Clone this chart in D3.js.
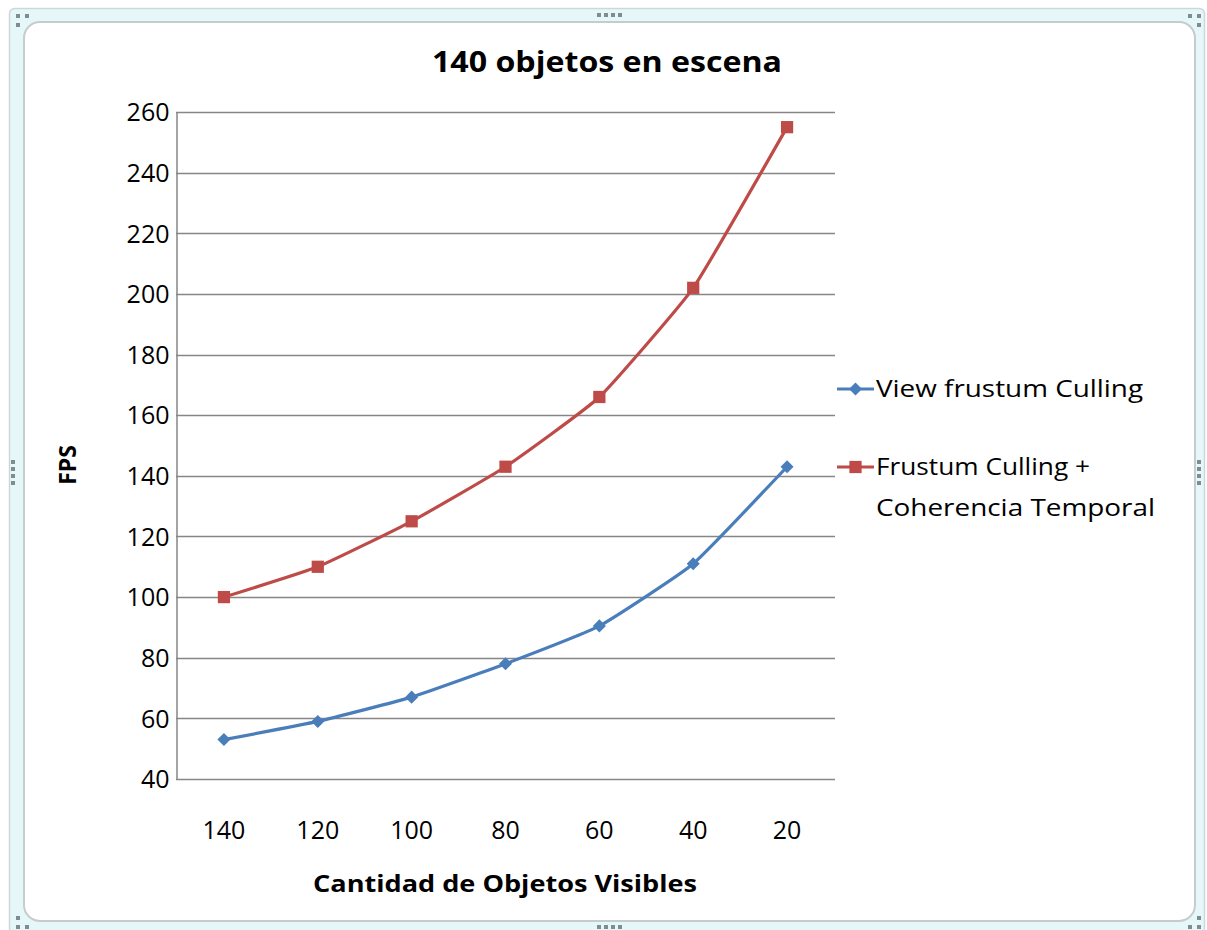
<!DOCTYPE html>
<html>
<head>
<meta charset="utf-8">
<script src="https://cdn.jsdelivr.net/npm/d3@7"></script>
<style>
  html, body { margin: 0; padding: 0; background: #ffffff; }
  svg { display: block; }
  text { font-family: "Open Sans", Lato, "DejaVu Sans", sans-serif; fill: #000; }
</style>
</head>
<body>
<svg id="chart" width="1207" height="930"></svg>
<script>
// Visible objects on screen (x axis, left to right)
const categories = ["140", "120", "100", "80", "60", "40", "20"];

// Frames per second for each technique
const viewFrustum = [53, 59, 67, 78, 90.5, 111, 143];
const frustumTemporal = [100, 110, 125, 143, 166, 202, 255];

const yTicks = [40, 60, 80, 100, 120, 140, 160, 180, 200, 220, 240, 260];

const seriesNames = ["View frustum Culling", "Frustum Culling +\nCoherencia Temporal"];
const chartTitle = "140 objetos en escena";
const xTitle = "Cantidad de Objetos Visibles";
const yTitle = "FPS";

const FONT = "'Open Sans', Lato, sans-serif";
const svg = d3.select("#chart");

// Chart frame: light cyan selection band with white rounded chart area inside
svg.append("rect")
  .attr("x", 9.5).attr("y", 8.5).attr("width", 1195).attr("height", 925)
  .attr("rx", 5)
  .attr("fill", "#e6f7f9").attr("stroke", "#cdd6d9").attr("stroke-width", 1.5);
svg.append("rect")
  .attr("x", 24).attr("y", 22).attr("width", 1171).attr("height", 899)
  .attr("rx", 16)
  .attr("fill", "#ffffff").attr("stroke", "#c6cbce").attr("stroke-width", 2);

// Grip dots on the frame
const grip = svg.append("g").attr("fill", "#7f8c90");
const dot = (gx, gy) => grip.append("rect").attr("x", gx - 2).attr("y", gy - 2).attr("width", 4).attr("height", 4);
[[18, 16], [27, 16], [18, 25]].forEach(([a, b]) => dot(a, b));
[[1190, 16], [1199, 16], [1199, 25]].forEach(([a, b]) => dot(a, b));
[[18, 927], [27, 927], [18, 918]].forEach(([a, b]) => dot(a, b));
[[1190, 927], [1199, 927], [1199, 918]].forEach(([a, b]) => dot(a, b));
[599, 606, 613, 620].forEach(gx => { dot(gx, 15); dot(gx, 927); });
[462, 469, 476, 483].forEach(gy => { dot(1199, gy); dot(13, gy); });

// Scales
const x = d3.scaleBand().domain(categories).range([177, 834]).padding(0);
const y = d3.scaleLinear().domain([40, 260]).range([779, 112]);
const cx = c => x(c) + x.bandwidth() / 2;

// Horizontal gridlines
svg.append("g")
  .selectAll("line").data(yTicks.slice(1)).join("line")
  .attr("x1", 176).attr("x2", 835)
  .attr("y1", d => Math.round(y(d)) + 0.5).attr("y2", d => Math.round(y(d)) + 0.5)
  .attr("stroke", "#868686").attr("stroke-width", 1.5);

// Y axis
const yAxis = svg.append("g")
  .attr("transform", "translate(176.5,0)")
  .call(d3.axisLeft(y).tickValues(yTicks).tickSize(0).tickPadding(7));
yAxis.select(".domain").attr("stroke", "#868686").attr("stroke-width", 1.5);
yAxis.selectAll(".tick text")
  .attr("font-size", 25).attr("font-family", FONT).attr("fill", "#000").attr("dy", "0.35em");

// X axis
const xAxis = svg.append("g")
  .attr("transform", "translate(0,779.5)")
  .call(d3.axisBottom(x).tickSize(0).tickPadding(0));
xAxis.select(".domain").attr("stroke", "#868686").attr("stroke-width", 1.5).attr("d", "M176,0H835");
xAxis.selectAll(".tick text")
  .attr("font-size", 25).attr("font-family", FONT).attr("fill", "#000")
  .attr("y", 51).attr("dy", "0.35em");

// Series
const series = [
  { name: seriesNames[0], values: viewFrustum, color: "#4a7ebb", marker: d3.symbolSquare, msize: 85, rot: 45 },
  { name: seriesNames[1], values: frustumTemporal, color: "#be4b48", marker: d3.symbolSquare, msize: 150, rot: 0 }
];

const line = d3.line()
  .x((d, i) => cx(categories[i]))
  .y(d => y(d))
  .curve(d3.curveCardinal.tension(0.6));

series.forEach(s => {
  svg.append("path")
    .datum(s.values)
    .attr("fill", "none")
    .attr("stroke", s.color)
    .attr("stroke-width", 3.2)
    .attr("stroke-linejoin", "round")
    .attr("d", line);
  svg.append("g")
    .selectAll("path").data(s.values).join("path")
    .attr("transform", (d, i) => `translate(${cx(categories[i])},${y(d)}) rotate(${s.rot})`)
    .attr("d", d3.symbol(s.marker, s.msize))
    .attr("fill", s.color);
});

// Titles
svg.append("text")
  .attr("x", 607).attr("y", 72)
  .attr("text-anchor", "middle")
  .attr("font-size", 28).attr("font-weight", "bold")
  .attr("textLength", 350).attr("lengthAdjust", "spacingAndGlyphs")
  .text(chartTitle);

svg.append("text")
  .attr("x", 505).attr("y", 884).attr("dy", "0.35em")
  .attr("text-anchor", "middle")
  .attr("font-size", 23).attr("font-weight", "bold")
  .attr("textLength", 384).attr("lengthAdjust", "spacingAndGlyphs")
  .text(xTitle);

svg.append("text")
  .attr("transform", "translate(68,465) rotate(-90)")
  .attr("dy", "0.35em")
  .attr("text-anchor", "middle")
  .attr("font-size", 23).attr("font-weight", "bold")
  .text(yTitle);

// Legend
const legendY = [389, 467];
const legendWidths = [[267], [214, 279]];
series.forEach((s, i) => {
  const g = svg.append("g").attr("transform", `translate(837,${legendY[i]})`);
  g.append("line").attr("x1", 0).attr("x2", 37).attr("y1", 0).attr("y2", 0)
    .attr("stroke", s.color).attr("stroke-width", 3.2);
  g.append("path").attr("transform", `translate(18.5,0) rotate(${s.rot})`)
    .attr("d", d3.symbol(s.marker, s.msize)).attr("fill", s.color);
  const lines = s.name.split("\n");
  lines.forEach((ln, k) => {
    g.append("text")
      .attr("x", 39).attr("y", k * 41).attr("dy", "0.35em")
      .attr("font-size", 24)
      .attr("textLength", legendWidths[i][k]).attr("lengthAdjust", "spacingAndGlyphs")
      .text(ln);
  });
});
</script>
</body>
</html>
